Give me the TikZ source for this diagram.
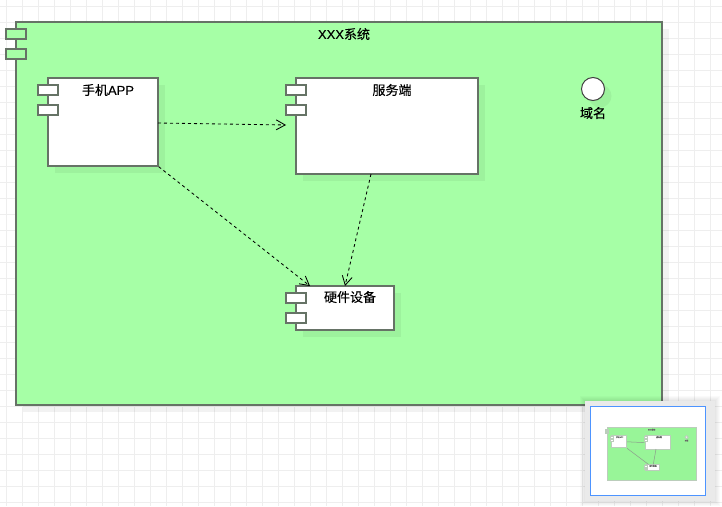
\documentclass[tikz,border=0pt]{standalone}
\usepackage{fontspec}
\setmainfont[FakeBold=.15]{Liberation Sans}
\newfontfamily\cjk[FakeBold=.2]{Noto Sans CJK SC}
\usetikzlibrary{arrows.meta,shadows}
\definecolor{sysgreen}{HTML}{A6FFA6}
\definecolor{minigreen}{HTML}{98F598}
\definecolor{linegrey}{HTML}{667366}
\definecolor{gridgrey}{HTML}{EEEEEE}
\definecolor{panelgrey}{HTML}{EAEAEA}
\definecolor{viewblue}{HTML}{4D94FF}
\definecolor{minigrey}{HTML}{BBCDBB}
\tikzset{
  boxshadow/.style={general shadow={shadow xshift=7pt,shadow yshift=-7pt,fill=black,opacity=.05}},
  comp/.style={rectangle,draw=linegrey,line width=1.5pt,fill=white,inner sep=0pt,boxshadow},
  port/.style={rectangle,draw=linegrey,line width=1.5pt,fill=white,inner sep=0pt,minimum width=20pt,minimum height=10pt},
  lbl/.style={inner sep=0pt,font=\fontsize{13}{15}\selectfont},
  dep/.style={draw=black,line width=.85pt,dash pattern=on 3pt off 3pt,-{Straight Barb[length=9pt,width=10pt]}},
  minicomp/.style={rectangle,draw=minigrey,line width=1pt,fill=white,inner sep=0pt},
  miniport/.style={rectangle,draw=minigrey,line width=.5pt,fill=white,inner sep=0pt,minimum width=2.8pt,minimum height=1.4pt},
  minilbl/.style={inner sep=0pt,text=black!60,font=\fontsize{1.8}{2}\selectfont},
  minidep/.style={draw=black!25!minigrey,line width=.5pt}
}
\begin{document}
\begin{tikzpicture}[x=1pt,y=-1pt]
\useasboundingbox (0,0) rectangle (722,506);
\fill[white] (0,0) rectangle (722,506);
\foreach \i in {0,...,44} \draw[gridgrey,line width=1pt] (6.5+16*\i,0) -- (6.5+16*\i,506);
\foreach \i in {0,...,31} \draw[gridgrey,line width=1pt] (0,6.5+16*\i) -- (722,6.5+16*\i);

\node[comp,fill=sysgreen,minimum width=646pt,minimum height=383pt] (sys) at (339,213.5) {};
\node[port,fill=sysgreen] (sysp1) at (16,34) {};
\node[port,fill=sysgreen] (sysp2) at (16,54) {};
\node[lbl] (syst) at (344,34) {XXX{\cjk 系统}};

\node[comp,minimum width=110pt,minimum height=88pt] (app) at (103,122) {};
\node[port] (appp1) at (48,90) {};
\node[port] (appp2) at (48,110) {};
\node[lbl] (appt) at (108,90) {{\cjk 手机}APP};

\node[comp,minimum width=182pt,minimum height=96pt] (srv) at (387,126) {};
\node[port] (srvp1) at (296,90) {};
\node[port] (srvp2) at (296,110) {};
\node[lbl] (srvt) at (392,90) {\cjk 服务端};

\node[comp,minimum width=98pt,minimum height=44pt] (hw) at (345,308) {};
\node[port] (hwp1) at (296,298) {};
\node[port] (hwp2) at (296,318) {};
\node[lbl] (hwt) at (350,297) {\cjk 硬件设备};

\node[comp,circle,draw=black!75,line width=1pt,minimum size=23pt] (dom) at (593,89) {};
\node[lbl] (domt) at (593,113) {\cjk 域名};

\coordinate (appout) at (158,123);
\coordinate (srvin) at (286,125);
\coordinate (srvout) at (371,174);
\coordinate (hwin1) at (310,286);
\coordinate (hwin2) at (345,286);
\draw[dep] (appout) -- (srvin);
\draw[dep] (app.south east) -- (hwin1);
\draw[dep] (srvout) -- (hwin2);

\foreach \i in {5,4,3,2,1} \fill[black,opacity=.018] (585-\i,401-\i) rectangle (715+\i,501+\i);
\node[rectangle,fill=panelgrey,minimum width=130pt,minimum height=100pt,inner sep=0pt] (panel) at (650,451) {};
\node[rectangle,draw=viewblue,fill=white,line width=1pt,minimum width=115pt,minimum height=89pt,inner sep=0pt] (view) at (648,451) {};

\node[minicomp,fill=minigreen,minimum width=89pt,minimum height=53pt] (msys) at (651.6,454.4) {};
\node[miniport,fill=minigrey] (msysp1) at (607,429.7) {};
\node[miniport,fill=minigrey] (msysp2) at (607,432.4) {};
\node[minilbl] (msyst) at (651.6,429.7) {XXX{\cjk 系统}};
\node[minicomp,minimum width=15.2pt,minimum height=12.1pt] (mapp) at (619,441.8) {};
\node[miniport] (mappp1) at (611.4,437.4) {};
\node[miniport] (mappp2) at (611.4,440.1) {};
\node[minilbl] (mappt) at (619.7,437.2) {{\cjk 手机}APP};
\node[minicomp,minimum width=25.1pt,minimum height=13.2pt] (msrv) at (658.2,442.4) {};
\node[miniport] (msrvp1) at (645.6,437.4) {};
\node[miniport] (msrvp2) at (645.6,440.1) {};
\node[minilbl] (msrvt) at (659,437.2) {\cjk 服务端};
\node[minicomp,minimum width=13.5pt,minimum height=6.1pt] (mhw) at (652.4,467.5) {};
\node[miniport] (mhwp1) at (645.6,466.1) {};
\node[miniport] (mhwp2) at (645.6,468.8) {};
\node[minilbl] (mhwt) at (653,466) {\cjk 硬件设备};
\node[minicomp,circle,minimum size=3.2pt] (mdom) at (686.6,437.2) {};
\node[minilbl] (mdomt) at (686.6,440.6) {\cjk 域名};
\coordinate (msrvin) at (644.3,442.6);
\coordinate (msrvout) at (656,449);
\coordinate (mhwin1) at (648.5,464.4);
\coordinate (mhwin2) at (653.3,464.4);
\draw[minidep] (mapp.east) -- (msrvin);
\draw[minidep] (mapp.south east) -- (mhwin1);
\draw[minidep] (msrvout) -- (mhwin2);
\end{tikzpicture}
\end{document}
